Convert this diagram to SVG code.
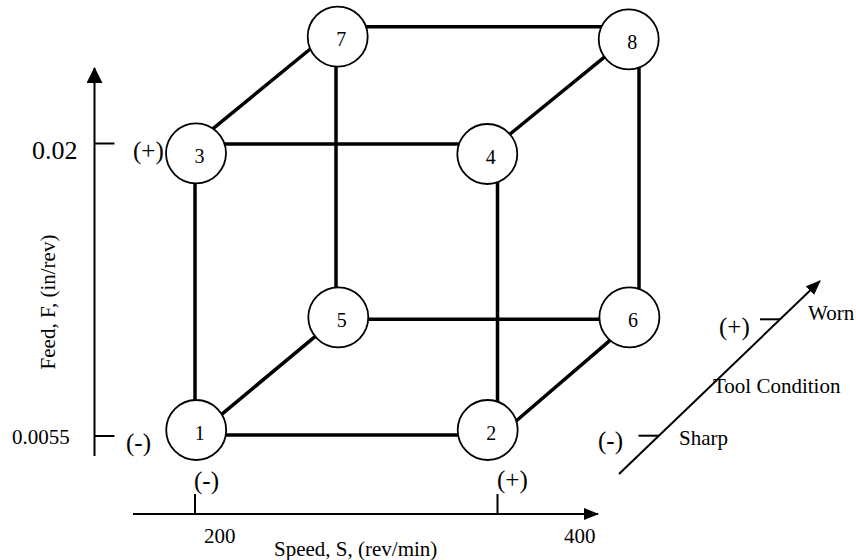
<svg xmlns="http://www.w3.org/2000/svg" width="856" height="560" viewBox="0 0 856 560">
<style>
.edge{stroke:#000;stroke-width:3.5;fill:none}
.axis{stroke:#000;stroke-width:2;fill:none}
.node circle{fill:#fff;stroke:#000;stroke-width:1.8}
text{font-family:"Liberation Serif","Times New Roman",serif;fill:#000}
.num{font-size:20px;text-anchor:middle}
.pm{font-size:25px}
.lbl{font-size:21px}
</style>
<defs>
<marker id="arrb" viewBox="0 0 16 16" refX="15" refY="8" markerWidth="16" markerHeight="16" markerUnits="userSpaceOnUse" orient="auto">
<path d="M0,0 L16,8 L0,16 z" fill="#000"/>
</marker>
<marker id="arrn" viewBox="0 0 15 12" refX="14" refY="6" markerWidth="15" markerHeight="12" markerUnits="userSpaceOnUse" orient="auto">
<path d="M0,0 L15,6 L0,12 z" fill="#000"/>
</marker>
</defs>
<g id="axes">
<line class="axis" x1="94.5" y1="456" x2="94.5" y2="68" marker-end="url(#arrb)"/>
<line class="axis" x1="94.5" y1="143.5" x2="114.5" y2="143.5"/>
<line class="axis" x1="94.5" y1="436" x2="114.5" y2="436"/>
<line class="axis" x1="133" y1="514" x2="598" y2="514" marker-end="url(#arrn)"/>
<line class="axis" x1="195" y1="494" x2="195" y2="514"/>
<line class="axis" x1="497.5" y1="494" x2="497.5" y2="514"/>
<line class="axis" x1="619" y1="474" x2="820" y2="281" marker-end="url(#arrn)"/>
<line class="axis" x1="760" y1="319.3" x2="780" y2="319.3"/>
<line class="axis" x1="638.5" y1="435.7" x2="659" y2="435.7"/>
</g>
<g id="connectors">
<line class="edge" x1="224" y1="144" x2="460" y2="144"/>
<line class="edge" x1="225" y1="435" x2="459" y2="435"/>
<line class="edge" x1="367" y1="319.3" x2="600" y2="319.3"/>
<line class="edge" x1="365" y1="26.7" x2="602" y2="26.7"/>
<line class="edge" x1="195" y1="182" x2="195" y2="402"/>
<line class="edge" x1="336" y1="65" x2="336" y2="289"/>
<line class="edge" x1="497.5" y1="181" x2="497.5" y2="403"/>
<line class="edge" x1="639" y1="66" x2="639" y2="290"/>
<line class="edge" x1="221" y1="414.8" x2="316.5" y2="335.4"/>
<line class="edge" x1="515.5" y1="421.5" x2="610" y2="340.3"/>
<line class="edge" x1="211.5" y1="129.8" x2="311.5" y2="48"/>
<line class="edge" x1="509.5" y1="134.5" x2="606.5" y2="55.4"/>
</g>
<g id="n1" class="node"><circle cx="196.2" cy="430" r="30"/><text class="num" x="199.7" y="439.5">1</text></g>
<g id="n2" class="node"><circle cx="487.7" cy="430" r="30"/><text class="num" x="491.2" y="439.5">2</text></g>
<g id="n3" class="node"><circle cx="196" cy="153.3" r="30"/><text class="num" x="199.5" y="162.8">3</text></g>
<g id="n4" class="node"><circle cx="487.3" cy="154" r="30"/><text class="num" x="490.8" y="163.5">4</text></g>
<g id="n5" class="node"><circle cx="338.3" cy="317.3" r="30"/><text class="num" x="341.8" y="326.8">5</text></g>
<g id="n6" class="node"><circle cx="629.4" cy="317.3" r="30"/><text class="num" x="632.9" y="326.8">6</text></g>
<g id="n7" class="node"><circle cx="337.7" cy="36.7" r="30"/><text class="num" x="341.2" y="46.2">7</text></g>
<g id="n8" class="node"><circle cx="628.7" cy="39.3" r="30"/><text class="num" x="632.2" y="48.8">8</text></g>
<g id="labels">
<text x="32" y="159" style="font-size:26px">0.02</text>
<text x="12" y="444" class="lbl">0.0055</text>
<text class="pm" x="133" y="159">(+)</text>
<text class="pm" x="126" y="451">(-)</text>
<text class="pm" x="194" y="489">(-)</text>
<text class="pm" x="497" y="488">(+)</text>
<text class="lbl" x="204" y="543">200</text>
<text class="lbl" x="564" y="543">400</text>
<text class="lbl" x="274" y="556">Speed, S, (rev/min)</text>
<text class="lbl" transform="translate(55,302) rotate(-90)" text-anchor="middle">Feed, F, (in/rev)</text>
<text class="pm" x="719" y="335">(+)</text>
<text class="lbl" x="808" y="320">Worn</text>
<text class="lbl" x="713" y="393">Tool Condition</text>
<text class="lbl" x="679" y="445">Sharp</text>
<text class="pm" x="598" y="449">(-)</text>
</g>
</svg>
